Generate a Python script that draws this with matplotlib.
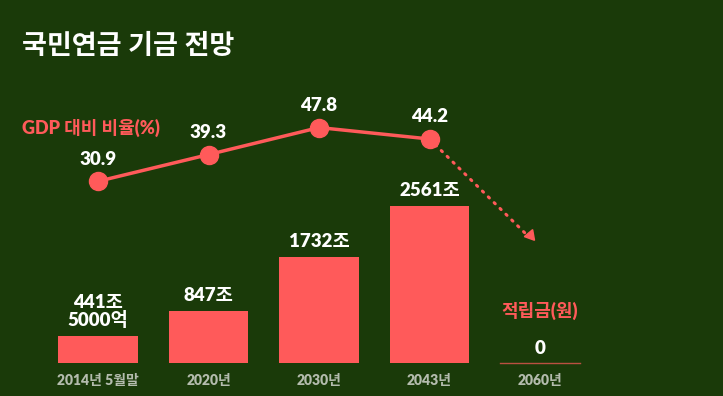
import matplotlib
matplotlib.use("Agg")
import matplotlib.pyplot as plt
import numpy as np

plt.rcParams['font.family'] = ['Lato', 'Noto Sans CJK KR', 'DejaVu Sans']

# data
years = ['2014년 5월말', '2020년', '2030년', '2043년', '2060년']
fund = [441.5, 847, 1732, 2561, 0]  # 조원 (first one is 441조 5000억)
fund_labels = ['441조\n5000억', '847조', '1732조', '2561조', '0']
gdp_ratio = [30.9, 39.3, 47.8, 44.2]
gdp_labels = ['30.9', '39.3', '47.8', '44.2']
arrow_end = 13.4  # where the dotted arrow ends on the ratio scale

bg = '#1a3a09'
red = '#ff5a5a'

fig = plt.figure(figsize=(7.23, 3.96), dpi=100)
fig.patch.set_facecolor(bg)
ax = fig.add_axes([0, 0, 1, 1])
ax.set_facecolor(bg)
ax.set_xlim(-0.887, 5.656)
ax.set_ylim(-538, 5917)
ax.axis('off')

x = np.arange(len(years))
ax.bar(x[:4], fund[:4], width=0.72, color=red)
ax.plot([x[4] - 0.36, x[4] + 0.36], [0, 0], color=red, lw=1, alpha=0.7)

for i in range(len(years)):
    ax.text(x[i], -290, years[i], ha='center', va='center', color='#b4bcae', fontsize=10,
            fontweight='heavy')
    if i < 4:
        ax.text(x[i], fund[i] + 110, fund_labels[i], ha='center', va='bottom', color='white',
                fontsize=13.5, fontweight='heavy', linespacing=1.0)
    else:
        ax.text(x[i], 100, fund_labels[i], ha='center', va='bottom', color='white',
                fontsize=13.5, fontweight='heavy')
ax.text(x[4], 700, '적립금(원)', ha='center', va='bottom', color=red, fontsize=13, fontweight='heavy')

# line on its own scale
ax2 = ax.twinx()
ax2.set_ylim(-36.6, 87.9)
ax2.axis('off')
ax2.plot(x[:4], gdp_ratio, color=red, lw=2.5, marker='o', markersize=13, zorder=3)
ax2.plot([x[3], x[3] + 0.9], [gdp_ratio[3], arrow_end], color=red, lw=2.2,
         linestyle=(0, (0.5, 2.2)), dash_capstyle='round', zorder=2)
ax2.plot([x[3] + 0.91], [arrow_end + 0.6], marker=(3, 0, -20), color=red, markersize=9)
for i in range(4):
    ax2.text(x[i], gdp_ratio[i] + 4.3, gdp_labels[i], ha='center', va='bottom', color='white',
             fontsize=13.5, fontweight='heavy')

fig.text(22 / 723, 1 - 45 / 396, '국민연금 기금 전망', ha='left', va='center', color='white',
         fontsize=19.5, fontweight='bold')
fig.text(22 / 723, 1 - 128 / 396, 'GDP 대비 비율(%)', ha='left', va='center', color=red,
         fontsize=13, fontweight='heavy')

fig.savefig('out.png', dpi=100, facecolor=bg)
